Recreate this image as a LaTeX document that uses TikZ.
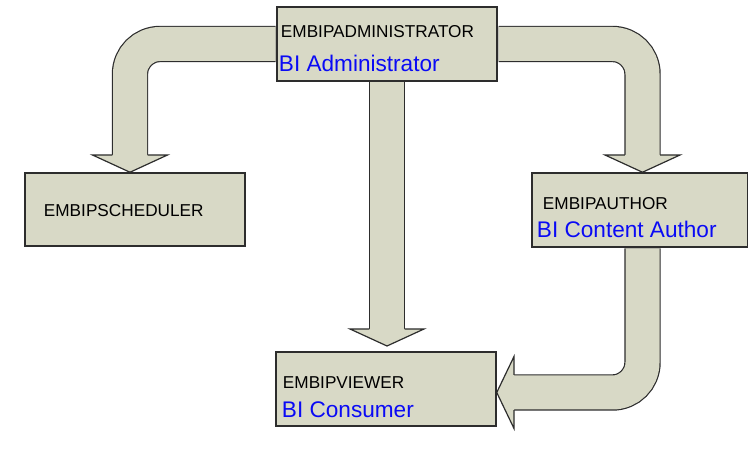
\documentclass[tikz,border=0pt]{standalone}
\usepackage{fontspec}
\setmainfont{Liberation Sans}
\usetikzlibrary{calc}

\definecolor{boxfill}{RGB}{216,217,198}
\definecolor{edgegray}{RGB}{45,45,45}
\definecolor{roleblue}{RGB}{10,10,245}

\begin{document}
\begin{tikzpicture}[x=1pt,y=-1pt,
  role box/.style={rectangle,fill=boxfill,draw=edgegray,line width=1.5pt,inner sep=0pt},
  role name/.style={anchor=base west,inner sep=0pt,text=black,font=\fontsize{17.2}{20}\selectfont},
  role title/.style={anchor=base west,inner sep=0pt,text=roleblue,font=\fontsize{22.6}{26}\selectfont},
  shaft/.style={draw=edgegray,line width=1.2pt,double=boxfill,double distance=34pt,
    rounded corners=30pt,shorten <=.75pt,shorten >=-.5pt},
  head/.style={fill=boxfill,draw=edgegray,line width=1.2pt,line join=miter}]

  \useasboundingbox (0,0) rectangle (748,454);

  % the four roles
  \node[role box,minimum width=220pt,minimum height=74pt] (adm) at (387,44) {};
  \node[role box,minimum width=220pt,minimum height=73pt] (sched) at (135,209.5) {};
  \node[role box,minimum width=215.5pt,minimum height=74pt] (auth) at (639.75,210) {};
  \node[role box,minimum width=220pt,minimum height=74pt] (view) at (386,389) {};

  % where the arrow heads start
  \coordinate (b1) at (130,155);
  \coordinate (b2) at (642.5,155);
  \coordinate (b3) at (387,329);
  \coordinate (b4) at (514,392.5);

  % shafts
  \draw[shaft] (adm.west) -| (b1);
  \draw[shaft] (adm.east) -| (b2);
  \draw[shaft] (adm.south) -- (b3);
  \draw[shaft] (auth.south -| b2) |- (b4);

  % heads
  \filldraw[head] ($(b1)+(-17.6,0)$) -- ($(b1)+(-37.5,0)$) -- (b1 |- sched.north)
    -- ($(b1)+(37.5,0)$) -- ($(b1)+(17.6,0)$);
  \filldraw[head] ($(b2)+(-17.6,0)$) -- ($(b2)+(-37.5,0)$) -- (b2 |- auth.north)
    -- ($(b2)+(37.5,0)$) -- ($(b2)+(17.6,0)$);
  \filldraw[head] ($(b3)+(-17.6,0)$) -- ($(b3)+(-37,0)$) -- ($(b3)+(0,17)$)
    -- ($(b3)+(37,0)$) -- ($(b3)+(17.6,0)$);
  \filldraw[head] ($(b4)+(0,-17.6)$) -- ($(b4)+(0,-36)$) -- (view.east |- b4)
    -- ($(b4)+(0,36)$) -- ($(b4)+(0,17.6)$);

  % labels
  \node[role name] (admN) at ($(adm.north west)+(4.5,31)$) {EMBIPADMINISTRATOR};
  \node[role title] (admT) at ($(adm.north west)+(2.5,65)$) {BI Administrator};
  \node[role name] (schedN) at ($(sched.north west)+(19.5,44)$) {EMBIPSCHEDULER};
  \node[role name] (authN) at ($(auth.north west)+(11.5,37)$) {EMBIPAUTHOR};
  \node[role title] (authT) at ($(auth.north west)+(5.5,65)$) {BI Content Author};
  \node[role name] (viewN) at ($(view.north west)+(7.5,37)$) {EMBIPVIEWER};
  \node[role title] (viewT) at ($(view.north west)+(6.5,66)$) {BI Consumer};

\end{tikzpicture}
\end{document}
